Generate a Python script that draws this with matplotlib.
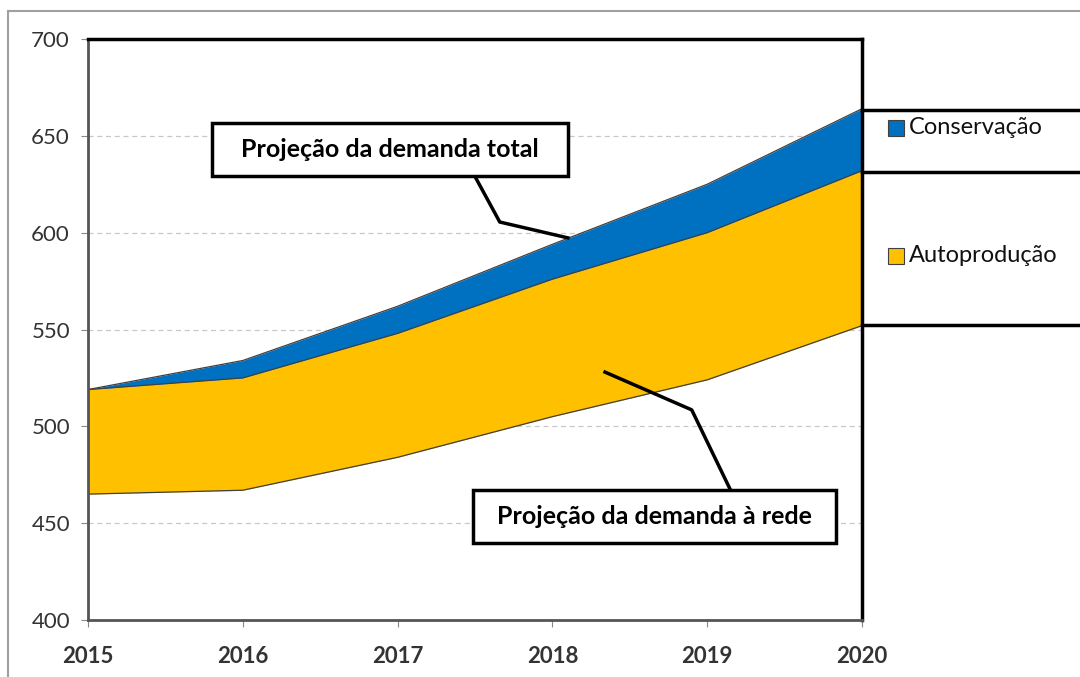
import numpy as np
import matplotlib
matplotlib.use("Agg")
import matplotlib.pyplot as plt
from matplotlib.lines import Line2D
from matplotlib.patches import Rectangle

plt.rcParams['font.family'] = ['Lato', 'DejaVu Sans']

# dados
anos = [2015, 2016, 2017, 2018, 2019, 2020]
rede = [465, 467, 484, 505, 524, 552]          # projeção da demanda à rede
autoproducao = [54, 58, 64, 71, 76, 80]
conservacao = [0, 9, 14, 18, 25, 32]
y_ticks = [400, 450, 500, 550, 600, 650, 700]

azul = '#0070C0'
amarelo = '#FFC000'

rede = np.array(rede)
topo_auto = rede + np.array(autoproducao)
topo_total = topo_auto + np.array(conservacao)

fig = plt.figure(figsize=(10.8, 6.77), dpi=100)
ax = fig.add_axes([88 / 1080, 57 / 677, 774 / 1080, 581 / 677])

ax.fill_between(anos, rede, topo_auto, color=amarelo, lw=0)
ax.fill_between(anos, topo_auto, topo_total, color=azul, lw=0)
ax.plot(anos, rede, color='#404040', lw=0.9)
ax.plot(anos, topo_auto, color='#404040', lw=0.9)
ax.plot(anos, topo_total, color='#404040', lw=0.9)

ax.set_xlim(2015, 2020)
ax.set_ylim(400, 700)
ax.set_xticks(anos)
ax.set_yticks(y_ticks)
ax.tick_params(axis='both', labelsize=16, labelcolor='#333333', color='#888888', length=5)
ax.tick_params(axis='x', pad=14)
ax.tick_params(axis='y', pad=8)
for lb in ax.get_xticklabels():
    lb.set_fontweight('bold')
for v in y_ticks[1:-1]:
    ax.axhline(v, color='#c8c8c8', lw=0.9, ls=(0, (4, 3)), zorder=0)
ax.spines['left'].set_color('#555555')
ax.spines['bottom'].set_color('#555555')
ax.spines['left'].set_linewidth(2)
ax.spines['bottom'].set_linewidth(2)
ax.spines['top'].set_color('black')
ax.spines['right'].set_color('black')
ax.spines['top'].set_linewidth(2.5)
ax.spines['right'].set_linewidth(2.5)

# moldura externa cinza
fig.add_artist(Line2D([8 / 1080, 8 / 1080], [0, 1 - 11 / 677], color='#a0a0a0', lw=1.5))
fig.add_artist(Line2D([8 / 1080, 1], [1 - 11 / 677, 1 - 11 / 677], color='#a0a0a0', lw=1.5))

# legenda em caixas à direita
for py in [110, 172, 325]:
    fig.add_artist(Line2D([862 / 1080, 1], [1 - py / 677, 1 - py / 677], color='black', lw=2.5))
legenda = [('Conservação', azul, 128), ('Autoprodução', amarelo, 256)]
for nome, cor, py in legenda:
    fig.add_artist(Rectangle((888 / 1080, 1 - (py + 8) / 677), 16 / 1080, 16 / 677,
                             transform=fig.transFigure, facecolor=cor, edgecolor='#404040', lw=0.8))
    fig.text(909 / 1080, 1 - py / 677, nome, fontsize=17, va='center', ha='left', color='#111111')

# chamadas (caixas + linhas de ligação)
ax.plot([2017.50, 2017.66, 2018.10], [629, 605.5, 597.3], color='black', lw=2.5, zorder=3)
ax.add_patch(Rectangle((2015.80, 629.3), 2.30, 27.3, facecolor='white', edgecolor='black',
                       lw=2.5, zorder=4, clip_on=False))
ax.text(2016.95, 643, 'Projeção da demanda total', fontsize=18, fontweight='bold',
        ha='center', va='center', zorder=5)

ax.plot([2018.34, 2018.90, 2019.15], [528, 508.5, 467.2], color='black', lw=2.5, zorder=3)
ax.add_patch(Rectangle((2017.49, 439.8), 2.34, 27.4, facecolor='white', edgecolor='black',
                       lw=2.5, zorder=4, clip_on=False))
ax.text(2018.66, 453.5, 'Projeção da demanda à rede', fontsize=18, fontweight='bold',
        ha='center', va='center', zorder=5)

fig.savefig('out.png', dpi=100)
